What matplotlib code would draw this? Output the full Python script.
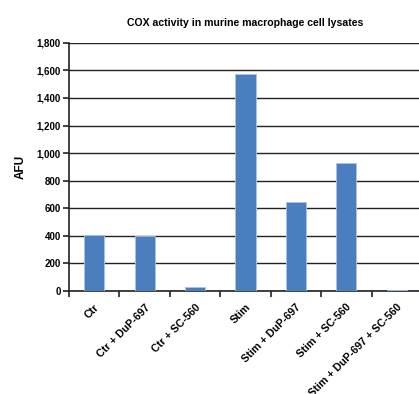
import numpy as np
import matplotlib.pyplot as plt

categories = ['Ctr', 'Ctr + DuP-697', 'Ctr + SC-560', 'Stim',
              'Stim + DuP-697', 'Stim + SC-560', 'Stim + DuP-697 + SC-560']
afu = [409, 399, 27, 1576, 649, 925, 10]
yticks = [0, 200, 400, 600, 800, 1000, 1200, 1400, 1600, 1800]

plt.rcParams['font.family'] = ['Liberation Sans', 'DejaVu Sans']
plt.rcParams['font.weight'] = 'bold'

fig = plt.figure(figsize=(4.19, 3.94), dpi=100)
ax = fig.add_axes([0.1647, 0.2614, 0.8425, 0.630])

x = np.arange(len(categories))
ax.bar(x, afu, width=0.4, color='#4a7ebf', edgecolor='#a9c3e6',
       linewidth=0.6, zorder=3)

ax.set_xlim(-0.5, len(categories) - 0.5)
ax.set_ylim(0, 1800)
ax.set_yticks(yticks)
ax.set_yticklabels([f'{v:,}' for v in yticks], fontsize=7, fontweight='bold')
ax.yaxis.grid(True, color='#222222', linewidth=1.0, zorder=0)

# category ticks between bars, labels centred under bars
ax.set_xticks(np.arange(len(categories) + 1) - 0.5)
ax.set_xticklabels([])
ax.set_xticks(x, minor=True)
ax.set_xticklabels(categories, minor=True, rotation=45, ha='right',
                   rotation_mode='anchor', fontsize=7.7, fontweight='bold')
ax.tick_params(axis='x', which='minor', length=0, pad=8)
ax.tick_params(axis='x', which='major', length=4, width=1.2, color='#222222')
ax.tick_params(axis='y', length=4, width=1.2, color='#222222', pad=2)

for side in ['top', 'right']:
    ax.spines[side].set_visible(False)
for side in ['left', 'bottom']:
    ax.spines[side].set_linewidth(1.2)
    ax.spines[side].set_color('#222222')

ax.set_ylabel('AFU', fontsize=8.5, fontweight='bold', labelpad=7)
ax.set_title('COX activity in murine macrophage cell lysates',
             fontsize=7.6, fontweight='bold', pad=12)

fig.savefig('out.png', dpi=100)
